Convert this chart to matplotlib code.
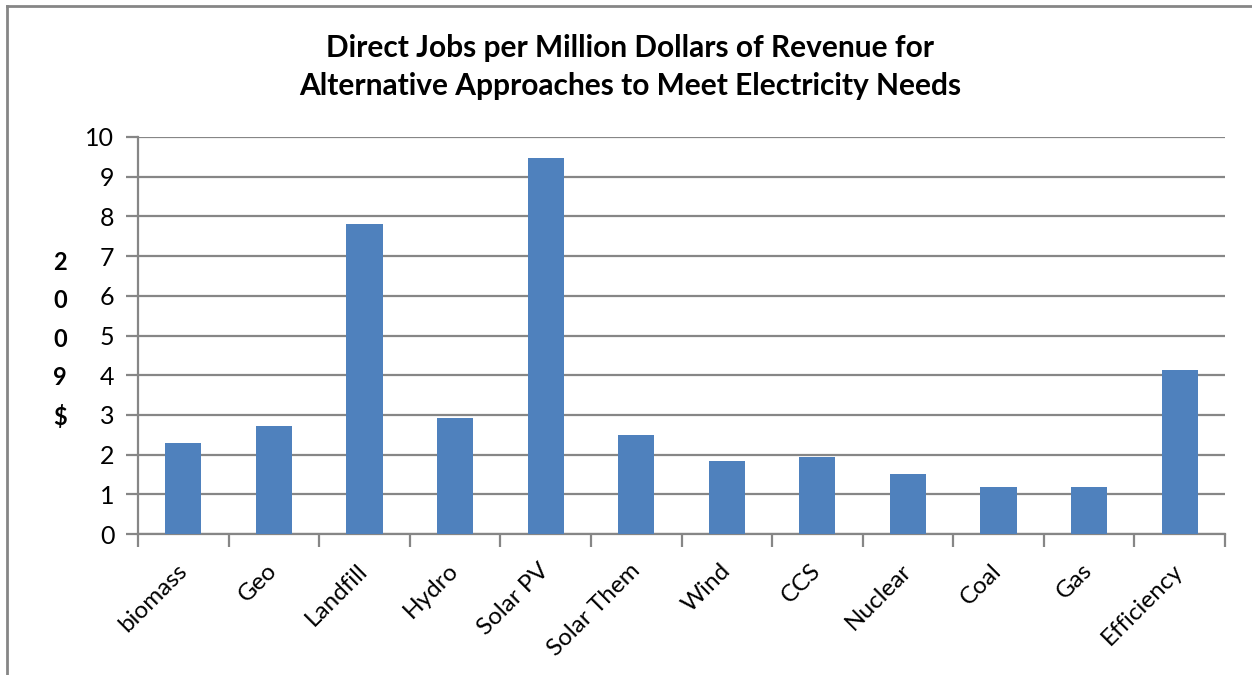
import matplotlib
matplotlib.use("Agg")
import matplotlib.pyplot as plt
from matplotlib.lines import Line2D
import matplotlib.transforms as mtransforms
import numpy as np

categories = ["biomass", "Geo", "Landfill", "Hydro", "Solar PV", "Solar Them",
              "Wind", "CCS", "Nuclear", "Coal", "Gas", "Efficiency"]
jobs = [2.29, 2.71, 7.82, 2.93, 9.46, 2.50, 1.84, 1.95, 1.52, 1.19, 1.19, 4.13]
y_ticks = list(range(0, 11))
title = "Direct Jobs per Million Dollars of Revenue for\nAlternative Approaches to Meet Electricity Needs"
y_label = "2\n0\n0\n9\n$"

plt.rcParams['font.family'] = ['Lato', 'DejaVu Sans']
bar_color = "#4F81BD"
grid_color = "#868686"

fig = plt.figure(figsize=(12.52, 6.75), dpi=100)
W, H = 1252, 675
ax = fig.add_axes([138 / W, (H - 534) / H, (1225 - 138) / W, (534 - 137) / H])

x = np.arange(len(categories))
ax.bar(x, jobs, width=0.40, color=bar_color, zorder=3)

ax.set_xlim(-0.5, len(categories) - 0.5)
ax.set_ylim(0, 10)
ax.set_yticks(y_ticks)
ax.set_yticklabels([str(v) for v in y_ticks], fontsize=18)
ax.yaxis.grid(True, color=grid_color, linewidth=1.6, zorder=0)
ax.set_axisbelow(True)

# category boundary ticks, labels centered on bars
ax.set_xticks(np.arange(len(categories) + 1) - 0.5)
ax.set_xticklabels([])
ax.set_xticks(x, minor=True)
labels = ax.set_xticklabels(categories, minor=True, rotation=45, ha='right',
                            va='center', rotation_mode='anchor', fontsize=17.5)
shift = mtransforms.ScaledTranslation(8 / 100, 0, fig.dpi_scale_trans)
for lab in labels:
    lab.set_transform(lab.get_transform() + shift)
ax.tick_params(axis='x', which='minor', length=0, pad=24)
ax.tick_params(axis='x', which='major', length=9, width=1.6, color=grid_color)
ax.tick_params(axis='y', length=9, width=1.6, color=grid_color, pad=8)

for side in ("top", "right"):
    ax.spines[side].set_visible(False)
for side in ("left", "bottom"):
    ax.spines[side].set_color(grid_color)
    ax.spines[side].set_linewidth(1.6)

fig.text(630 / W, 1 - 67 / H, title, ha='center', va='center',
         fontsize=21.5, fontweight='bold', linespacing=1.42)
fig.text(60 / W, 1 - 340 / H, y_label, ha='center', va='center',
         fontsize=17, fontweight='bold', linespacing=1.8)

# chart area border
fig.add_artist(Line2D([7 / W, 7 / W], [0, 1 - 6 / H], color=grid_color,
                      linewidth=2, transform=fig.transFigure))
fig.add_artist(Line2D([7 / W, 1], [1 - 6 / H, 1 - 6 / H], color=grid_color,
                      linewidth=2, transform=fig.transFigure))

fig.savefig("out.png", dpi=100, facecolor='white')
